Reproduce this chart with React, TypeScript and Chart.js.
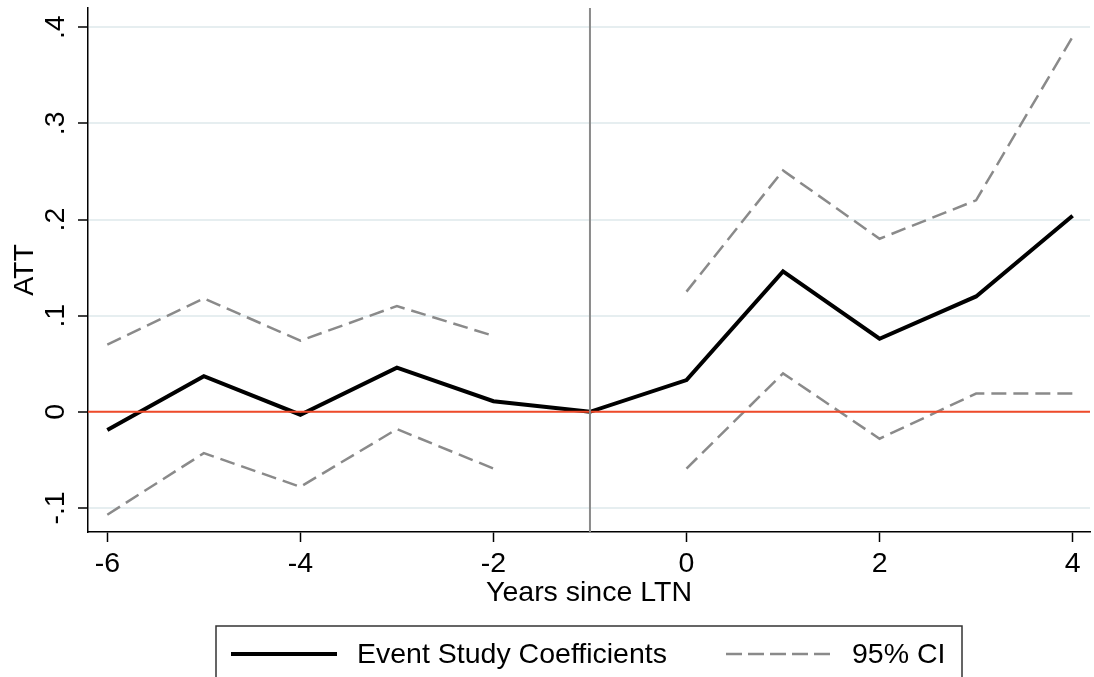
import React, { useEffect, useRef } from "react";
import { Chart, registerables } from "chart.js";

Chart.register(...registerables);

const years = [-6, -5, -4, -3, -2, -1, 0, 1, 2, 3, 4];
const coef = [-0.019, 0.037, -0.003, 0.046, 0.011, 0, 0.033, 0.146, 0.076, 0.12, 0.204];
const ciUpper = [0.07, 0.118, 0.074, 0.11, 0.079, null, 0.125, 0.251, 0.18, 0.22, 0.39];
const ciLower = [-0.107, -0.043, -0.078, -0.018, -0.059, null, -0.059, 0.04, -0.028, 0.019, 0.019];
const xTicks = [-6, -4, -2, 0, 2, 4];
const yTicks = [-0.1, 0, 0.1, 0.2, 0.3, 0.4];
const yTickLabels = ["-.1", "0", ".1", ".2", ".3", ".4"];
const eventYear = -1;
const zeroValue = 0;
const legendLabels = ["Event Study Coefficients", "95% CI"];
const xTitle = "Years since LTN";
const yTitle = "ATT";

const FONT = "'Liberation Sans', Arial, Helvetica, sans-serif";
const FS = 28.5;

export default function App() {
  const ref = useRef<HTMLCanvasElement | null>(null);

  useEffect(() => {
    const canvas = ref.current;
    if (!canvas) return;

    const toPts = (arr: (number | null)[]) => years.map((x, i) => ({ x, y: arr[i] }));

    const refLines = {
      id: "refLines",
      afterDatasetsDraw(chart: any) {
        const { ctx, chartArea, scales } = chart;
        const xs = scales.x;
        const ys = scales.y;
        ctx.save();
        const y0 = ys.getPixelForValue(zeroValue);
        ctx.strokeStyle = "#f04a2a";
        ctx.lineWidth = 2;
        ctx.beginPath();
        ctx.moveTo(chartArea.left, y0);
        ctx.lineTo(chartArea.right, y0);
        ctx.stroke();
        const xe = xs.getPixelForValue(eventYear);
        ctx.strokeStyle = "#8a8a8a";
        ctx.lineWidth = 2;
        ctx.beginPath();
        ctx.moveTo(xe, chartArea.top);
        ctx.lineTo(xe, chartArea.bottom);
        ctx.stroke();
        ctx.restore();
      },
      afterDraw(chart: any) {
        const { ctx, scales } = chart;
        const ys = scales.y;
        ctx.save();
        ctx.fillStyle = "#000";
        ctx.font = `${FS}px ${FONT}`;
        ctx.textAlign = "center";
        ctx.textBaseline = "middle";
        yTicks.forEach((v, i) => {
          const py = ys.getPixelForValue(v);
          ctx.save();
          ctx.translate(56, py);
          ctx.rotate(-Math.PI / 2);
          ctx.fillText(yTickLabels[i], 0, 0);
          ctx.restore();
        });
        // legend box
        ctx.strokeStyle = "#333";
        ctx.lineWidth = 1.5;
        ctx.strokeRect(216, 626, 746, 120);
        const ly = 654;
        ctx.strokeStyle = "#000";
        ctx.lineWidth = 4;
        ctx.setLineDash([]);
        ctx.beginPath();
        ctx.moveTo(231, ly);
        ctx.lineTo(337, ly);
        ctx.stroke();
        ctx.strokeStyle = "#8a8a8a";
        ctx.lineWidth = 2.5;
        ctx.setLineDash([16, 6]);
        ctx.beginPath();
        ctx.moveTo(726, ly);
        ctx.lineTo(832, ly);
        ctx.stroke();
        ctx.setLineDash([]);
        ctx.textAlign = "left";
        ctx.fillStyle = "#000";
        ctx.fillText(legendLabels[0], 357, ly + 1);
        ctx.fillText(legendLabels[1], 852, ly + 1);
        ctx.restore();
      },
    };

    const chart = new Chart(canvas, {
      type: "line",
      data: {
        datasets: [
          {
            label: legendLabels[1],
            data: toPts(ciUpper),
            borderColor: "#8a8a8a",
            borderWidth: 2.5,
            borderDash: [15, 7],
            pointRadius: 0,
            spanGaps: false,
            tension: 0,
          },
          {
            label: legendLabels[1] + " lower",
            data: toPts(ciLower),
            borderColor: "#8a8a8a",
            borderWidth: 2.5,
            borderDash: [15, 7],
            pointRadius: 0,
            spanGaps: false,
            tension: 0,
          },
          {
            label: legendLabels[0],
            data: toPts(coef),
            borderColor: "#000",
            borderWidth: 4,
            pointRadius: 0,
            tension: 0,
          },
        ],
      },
      options: {
        animation: false,
        responsive: false,
        maintainAspectRatio: false,
        devicePixelRatio: 1,
        layout: { padding: { top: 8, right: 4, left: 0, bottom: 0 } },
        plugins: { legend: { display: false }, tooltip: { enabled: false }, title: { display: false } },
        scales: {
          x: {
            type: "linear",
            min: -6.2,
            max: 4.18,
            afterBuildTicks: (s: any) => {
              s.ticks = xTicks.map((v) => ({ value: v }));
            },
            afterFit: (s: any) => {
              s.height = 145;
            },
            grid: { drawOnChartArea: false, drawTicks: true, tickLength: 10, tickColor: "#000", tickWidth: 1.5 },
            border: { color: "#000", width: 1.5 },
            ticks: {
              color: "#000",
              font: { family: FONT, size: FS },
              padding: 5,
              maxRotation: 0,
              autoSkip: false,
              callback: (v: any) => String(v),
            },
            title: {
              display: true,
              text: xTitle,
              color: "#000",
              font: { family: FONT, size: FS },
              padding: { top: 0, bottom: 67 },
            },
          },
          y: {
            type: "linear",
            min: -0.125,
            max: 0.42,
            afterBuildTicks: (s: any) => {
              s.ticks = yTicks.map((v) => ({ value: v }));
            },
            afterFit: (s: any) => {
              s.width = 88;
            },
            grid: { color: "#e6eef0", lineWidth: 2, drawTicks: true, tickLength: 10, tickColor: "#000", tickWidth: 1.5 },
            border: { color: "#000", width: 1.5 },
            ticks: { display: false },
            title: {
              display: true,
              text: yTitle,
              color: "#000",
              font: { family: FONT, size: FS },
              padding: { top: 8, bottom: 0 },
            },
          },
        },
      },
      plugins: [refLines],
    } as any);

    return () => chart.destroy();
  }, []);

  return (
    <div style={{ position: "fixed", left: 0, top: 0, width: 1094, height: 677, background: "#fff" }}>
      <canvas ref={ref} width={1094} height={677} style={{ display: "block", width: 1094, height: 677 }} />
    </div>
  );
}
